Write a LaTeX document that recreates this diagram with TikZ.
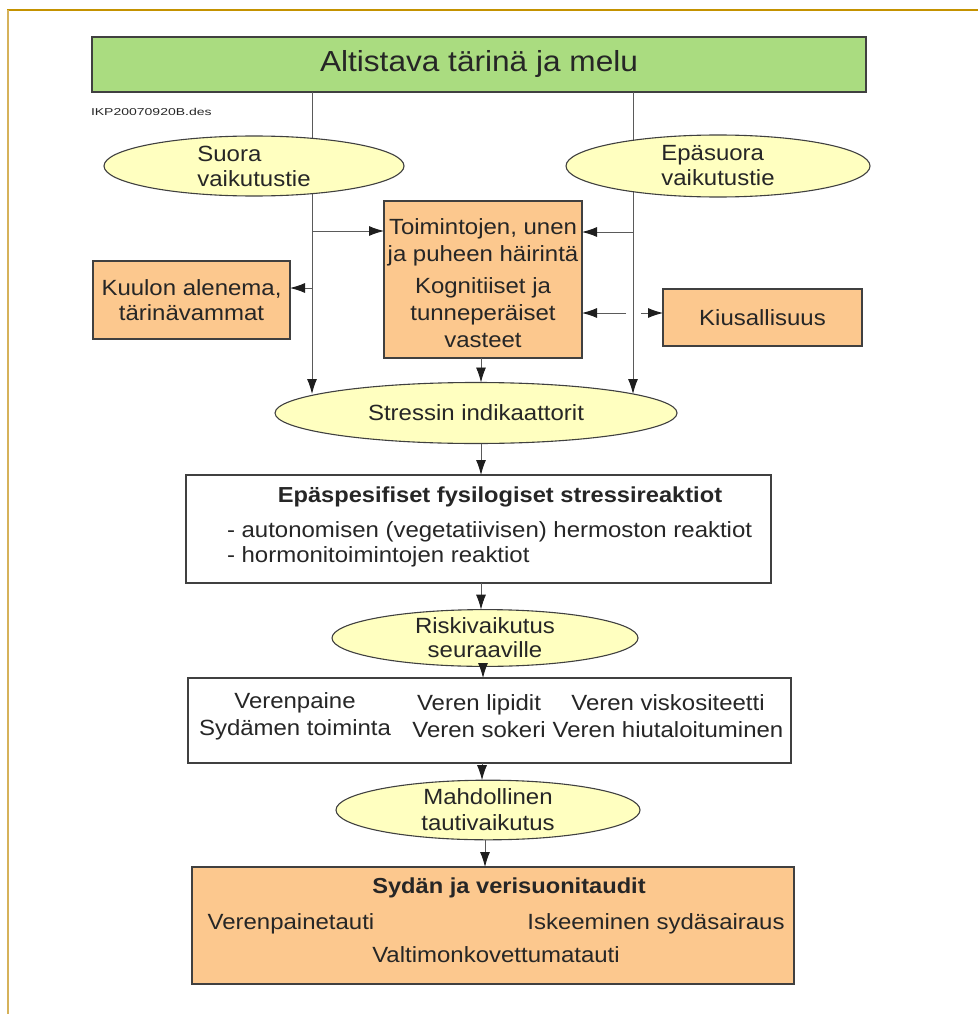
\documentclass[tikz,border=0pt]{standalone}
\usepackage{fontspec}
\setmainfont{Liberation Sans}[FakeStretch=1.09]
\newfontfamily\labelfont{Liberation Sans}[FakeStretch=1.4]
\usetikzlibrary{shapes.geometric,arrows.meta}
\definecolor{titlegreen}{RGB}{170,220,128}
\definecolor{boxorange}{RGB}{252,200,142}
\definecolor{ellyellow}{RGB}{255,255,192}
\definecolor{framegold}{RGB}{196,146,0}
\definecolor{frameleft}{RGB}{214,178,90}
\definecolor{edgegray}{RGB}{64,64,64}
\definecolor{linegray}{RGB}{90,90,90}
\definecolor{tipdark}{RGB}{30,30,30}
\tikzset{
  boxbase/.style={draw=edgegray,line width=1.1pt,inner sep=0pt,outer sep=0pt,text=black!85},
  orangebox/.style={boxbase,fill=boxorange,rectangle},
  whitebox/.style={boxbase,fill=white,rectangle},
  ellnode/.style={boxbase,fill=ellyellow,ellipse},
  conn/.style={draw=linegray,line width=0.9pt},
  arr/.style={conn,-{Latex[length=15pt,width=10pt,color=tipdark]}},
  txt/.style={inner sep=0pt,outer sep=0pt,text=black!85},
  fnt/.style={font=\fontsize{22}{27}\selectfont},
  bfnt/.style={font=\bfseries\fontsize{21.7}{26}\selectfont},
}
\begin{document}
\begin{tikzpicture}[x=1pt,y=-1pt]
\useasboundingbox (0,0) rectangle (978,1014);
% frame
\draw[framegold,line width=1.6pt] (7,10) -- (978,10);
\draw[frameleft,line width=2pt] (8,10) -- (8,1014);

% title
\node[boxbase,fill=titlegreen,rectangle,minimum width=774pt,minimum height=55pt,font=\fontsize{29}{34}\selectfont] (title) at (479,64.5) {Altistava tärinä ja melu};
\node[txt,anchor=west,font=\labelfont\fontsize{10}{12}\selectfont] (ikp) at (91,112) {IKP20070920B.des};

% vertical main lines (drawn first, behind ellipses)
\coordinate (Ltop) at (312,92);
\coordinate (Lbot) at (312,394);
\coordinate (Rtop) at (633,92);
\coordinate (Rbot) at (633,394);
\draw[arr] (Ltop) -- (Lbot);
\draw[arr] (Rtop) -- (Rbot);

% ellipses
\node[ellnode,minimum width=300pt,minimum height=60pt,align=left,font=\fontsize{22}{25}\selectfont] (suora) at (254,166) {Suora\\vaikutustie};
\node[ellnode,minimum width=304pt,minimum height=62pt,align=left,font=\fontsize{22}{25}\selectfont] (epasuora) at (718,166) {Epäsuora\\vaikutustie};

% boxes
\node[orangebox,minimum width=198pt,minimum height=157pt] (toim) at (483,279.5) {};
\node[txt,align=center,fnt] (toimt) at (483,283) {Toimintojen, unen\\ja puheen häirintä\\[5pt]Kognitiiset ja\\tunneperäiset\\vasteet};
\node[orangebox,minimum width=197pt,minimum height=78pt,align=center,font=\fontsize{22}{25}\selectfont] (kuulon) at (191.5,300) {Kuulon alenema,\\tärinävammat};
\node[orangebox,minimum width=199pt,minimum height=57pt,fnt] (kius) at (762.5,317.5) {Kiusallisuus};

\node[ellnode,minimum width=402pt,minimum height=61pt,fnt] (stress) at (476,413) {Stressin indikaattorit};

\node[whitebox,minimum width=585pt,minimum height=108pt] (epa) at (478.5,529) {};
\node[txt,bfnt] (epat) at (500,497) {Epäspesifiset fysilogiset stressireaktiot};
\node[txt,anchor=west,fnt] (epa1) at (227,532) {- autonomisen (vegetatiivisen) hermoston reaktiot};
\node[txt,anchor=west,fnt] (epa2) at (227,557) {- hormonitoimintojen reaktiot};

\node[ellnode,minimum width=306pt,minimum height=50pt,align=center,font=\fontsize{22}{24}\selectfont] (riski) at (485,638) {Riskivaikutus\\seuraaville};

\node[whitebox,minimum width=603pt,minimum height=85pt] (ver) at (489.5,720.5) {};
\node[txt,align=center,fnt] (verc1) at (295,716.5) {Verenpaine\\Sydämen toiminta};
\node[txt,align=center,fnt] (verc2) at (479,716.5) {Veren lipidit\\Veren sokeri};
\node[txt,align=center,fnt] (verc3) at (668,716.5) {Veren viskositeetti\\Veren hiutaloituminen};

\node[ellnode,minimum width=304pt,minimum height=56pt,align=center,font=\fontsize{22}{26}\selectfont] (mahd) at (488,810) {Mahdollinen\\tautivaikutus};

\node[orangebox,minimum width=602pt,minimum height=117pt] (sydan) at (493,925.5) {};
\node[txt,bfnt] (sydt) at (509,888) {Sydän ja verisuonitaudit};
\node[txt,fnt] (syd1) at (291,924) {Verenpainetauti};
\node[txt,fnt] (syd2) at (656,924) {Iskeeminen sydäsairaus};
\node[txt,fnt] (syd3) at (496,955) {Valtimonkovettumatauti};

% branch arrows
\coordinate (La) at (312,231);
\coordinate (Lb) at (312,288);
\coordinate (Ra) at (633,232);
\coordinate (Rc1) at (626,313);
\coordinate (Rc2) at (641,313);
\draw[arr] (La) -- (La -| toim.west);
\draw[arr] (Lb) -- (Lb -| kuulon.east);
\draw[arr] (Ra) -- (Ra -| toim.east);
\draw[arr] (Rc1) -- (Rc1 -| toim.east);
\draw[arr] (Rc2) -- (Rc2 -| kius.west);

% vertical chain
\draw[arr] (toim.south -| 481,0) -- (stress.north -| 481,0);
\draw[arr] (stress.south -| 481,0) -- (epa.north -| 481,0);
\draw[arr] (epa.south -| 481,0) -- (riski.north -| 481,0);
\draw[arr] (riski.south -| 483,0) -- (ver.north -| 483,0);
\draw[arr] (ver.south -| 482,0) -- (mahd.north -| 482,0);
\draw[arr] (mahd.south -| 485,0) -- (sydan.north -| 485,0);
\end{tikzpicture}
\end{document}
